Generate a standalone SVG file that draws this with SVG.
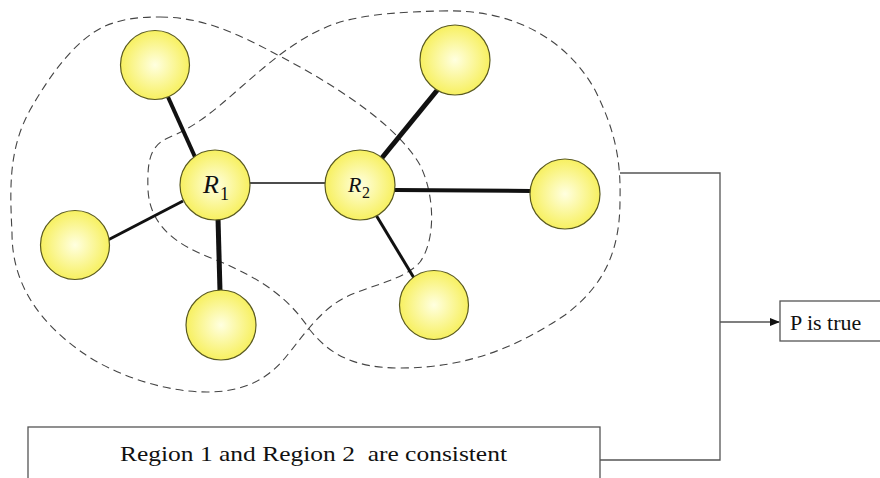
<svg xmlns="http://www.w3.org/2000/svg" width="880" height="478" viewBox="0 0 880 478">
<defs>
<radialGradient id="yg" cx="50%" cy="50%" r="50%">
<stop offset="0" stop-color="#ffffe0"/>
<stop offset="1" stop-color="#f7f060"/>
</radialGradient>
<marker id="arr" markerWidth="10" markerHeight="8" refX="9" refY="4" orient="auto" markerUnits="userSpaceOnUse">
<path d="M0,0 L10,4 L0,8 Z" fill="#111"/>
</marker>
<style>
.node{fill:url(#yg);stroke:#5a5a20;stroke-width:1.2}
.edge{stroke:#111;fill:none;stroke-linecap:butt}
.region{fill:none;stroke:#444;stroke-width:1.1;stroke-dasharray:8 5}
.wire{fill:none;stroke:#555;stroke-width:1.3}
.box{fill:#fff;stroke:#555;stroke-width:1.3}
text{fill:#111;font-family:Liberation Serif,Tinos,DejaVu Serif,serif}
</style>
</defs>
<g id="regions">
<path class="region" d="M 160,17 C 210,17 250,40 300,67 C 350,95 400,130 420,165 C 435,195 436,240 420,262 C 405,280 370,285 344,298 C 320,310 300,340 285,358 C 265,382 240,392 207,392 C 160,392 110,372 83,353 C 40,323 12,285 12,233 C 10,190 8,150 30,110 C 50,75 75,40 105,26 C 125,18 140,17 160,17 Z"/>
<path class="region" d="M 440,11 C 520,8 570,45 595,90 C 615,130 621,160 620,200 C 620,250 605,285 565,315 C 520,345 470,368 400,368 C 355,368 330,355 310,330 C 290,300 265,280 216,260 C 175,245 150,225 148,190 C 147,160 150,145 170,137 C 195,127 215,110 240,88 C 270,62 300,35 340,22 C 370,14 400,12 440,11 Z"/>
</g>
<g id="connectors">
<line class="edge" x1="195" y1="157" x2="168" y2="97" stroke-width="4"/>
<line class="edge" x1="183" y1="201" x2="106" y2="241" stroke-width="3"/>
<line class="edge" x1="218" y1="218" x2="220" y2="291" stroke-width="5"/>
<line class="edge" x1="250" y1="183" x2="325" y2="183" stroke-width="1.5" stroke="#444"/>
<line class="edge" x1="381" y1="159" x2="439" y2="88" stroke-width="5"/>
<line class="edge" x1="395" y1="190" x2="531" y2="191" stroke-width="4"/>
<line class="edge" x1="376" y1="215" x2="414" y2="278" stroke-width="3"/>
<polyline class="wire" points="620,173 720,173 720,460 600,460"/>
<line class="wire" x1="720" y1="322" x2="779" y2="322" marker-end="url(#arr)"/>
</g>
<g id="n-top-left"><circle class="node" cx="155" cy="65" r="34.5"/></g>
<g id="n-left"><circle class="node" cx="75" cy="245" r="34.5"/></g>
<g id="n-bottom"><circle class="node" cx="221" cy="325" r="35"/></g>
<g id="n-top-right"><circle class="node" cx="455" cy="60" r="35"/></g>
<g id="n-right"><circle class="node" cx="565" cy="194" r="35"/></g>
<g id="n-bottom-right"><circle class="node" cx="434" cy="305" r="34.5"/></g>
<g id="R1"><circle class="node" cx="215" cy="185" r="35"/>
<text x="203" y="193" font-size="26" font-style="italic">R</text><text x="220" y="200" font-size="18">1</text></g>
<g id="R2"><circle class="node" cx="360" cy="185" r="35"/>
<text x="348" y="192" font-size="22" font-style="italic">R</text><text x="362" y="198" font-size="16">2</text></g>
<g id="p-true"><rect class="box" x="780" y="301" width="110" height="40"/>
<text x="790" y="330" font-size="22">P is true</text></g>
<g id="consistent"><rect class="box" x="28" y="427" width="572" height="60"/>
<text x="120" y="461" font-size="22" textLength="387" lengthAdjust="spacingAndGlyphs" xml:space="preserve">Region 1 and Region 2  are consistent</text></g>
</svg>
